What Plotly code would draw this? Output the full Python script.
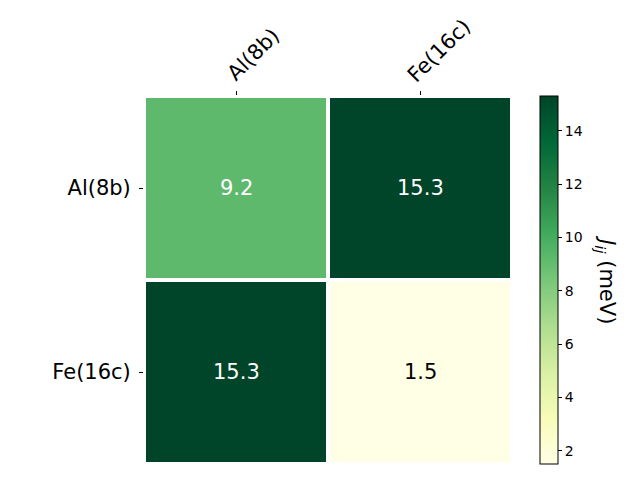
import plotly.graph_objects as go

sites = ["Al(8b)", "Fe(16c)"]
j_values = [
    [9.2, 15.3],
    [15.3, 1.5],
]
zmin, zmax = 1.5, 15.3

ylgn = [
    "rgb(255,255,229)", "rgb(247,252,185)", "rgb(217,240,163)",
    "rgb(173,221,142)", "rgb(120,198,121)", "rgb(65,171,93)",
    "rgb(35,132,67)", "rgb(0,104,55)", "rgb(0,69,41)",
]

fig = go.Figure(go.Heatmap(
    z=j_values, x=sites, y=sites,
    zmin=zmin, zmax=zmax,
    colorscale=ylgn,
    xgap=4, ygap=4,
    hoverinfo="skip",
    colorbar=dict(
        x=1.076, xanchor="left", xref="paper", xpad=0,
        y=0.5, yanchor="middle", len=1.0, lenmode="fraction", ypad=0,
        thickness=18,
        outlinecolor="black", outlinewidth=1,
        ticks="outside", ticklen=4, tickwidth=1, tickcolor="black",
        tickvals=[2, 4, 6, 8, 10, 12, 14],
        tickfont=dict(size=14, color="black"),
    ),
))

for i, row in enumerate(j_values):
    for j, v in enumerate(row):
        color = "white" if v > (zmin + zmax) / 2 else "black"
        fig.add_annotation(x=sites[j], y=sites[i], text=f"{v:.1f}", showarrow=False,
                           font=dict(size=21, color=color))

# rotated top tick labels, drawn as annotations so they start at the tick
for name in sites:
    fig.add_annotation(x=name, xref="x", y=1.0, yref="paper", text=name, showarrow=False,
                       textangle=-45, xanchor="center", yanchor="middle",
                       xshift=5 + 2 * len(name), yshift=17 + 4 * len(name),
                       font=dict(size=21, color="black"))

# colorbar label, rotated to read top-to-bottom
fig.add_annotation(xref="paper", yref="paper", x=1.255, y=0.5, textangle=90,
                   xanchor="center", yanchor="middle",
                   text="<i>J</i><sub><i>ij</i></sub> (meV)", showarrow=False,
                   font=dict(size=21, color="black"))

fig.update_layout(
    width=640, height=480,
    margin=dict(l=136, r=136, t=88, b=24),
    plot_bgcolor="white", paper_bgcolor="white",
    font=dict(family="DejaVu Sans", color="black"),
    xaxis=dict(side="top", ticks="outside", ticklen=4, tickcolor="black",
               showticklabels=False, showgrid=False, zeroline=False, showline=False,
               automargin=False),
    yaxis=dict(autorange="reversed", ticks="outside", ticklen=4, tickcolor="black",
               tickfont=dict(size=21), ticklabelstandoff=4,
               showgrid=False, zeroline=False, showline=False, automargin=False),
)

fig.write_html("out.html")
